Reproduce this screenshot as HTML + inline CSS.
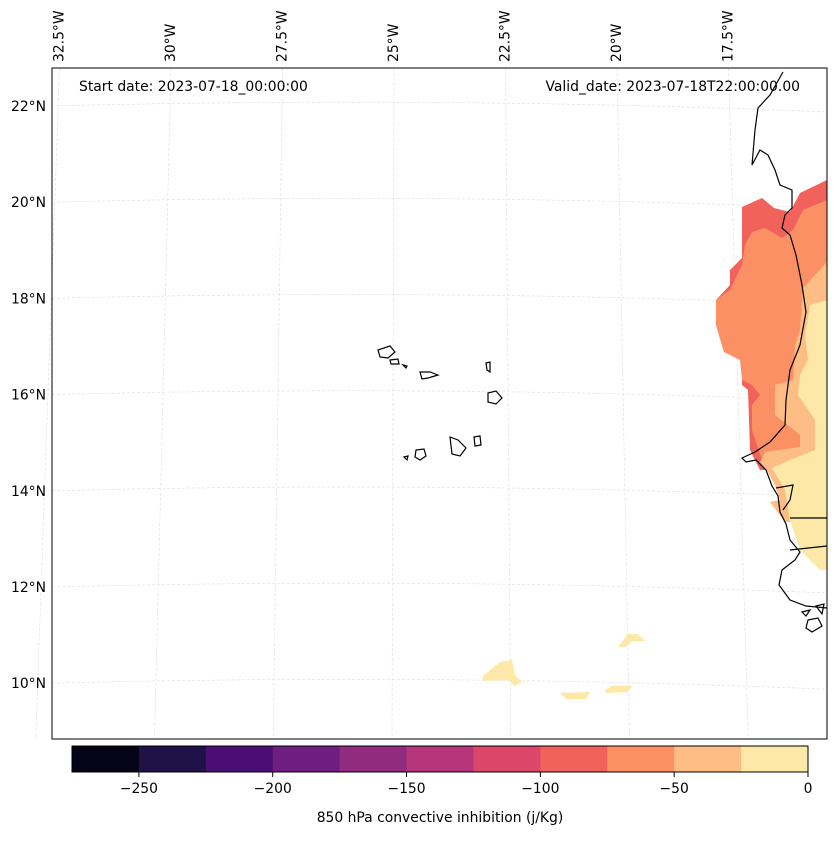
<!DOCTYPE html>
<html><head><meta charset="utf-8"><style>
body{margin:0;background:#fff;width:837px;height:836px;overflow:hidden}
text{font-family:"DejaVu Sans","Liberation Sans",sans-serif;fill:#000}
</style></head><body>
<svg id="chart" width="837" height="836">
<g id="grid"></g>
<g id="fills"></g>
<g id="coast"></g>
<rect x="52" y="68" width="775" height="671" fill="none" stroke="#000" stroke-width="1"/>
<text x="79" y="91" font-size="13.9">Start date: 2023-07-18_00:00:00</text>
<text x="800" y="91" font-size="13.9" text-anchor="end">Valid_date: 2023-07-18T22:00:00.00</text>
<g id="labels"></g>
<g id="cbar"></g>
<text x="440" y="822" font-size="13.9" text-anchor="middle">850 hPa convective inhibition (j/Kg)</text>
</svg>
<script>
const lonTicks=["32.5°W","30°W","27.5°W","25°W","22.5°W","20°W","17.5°W"];
const lonVals=[-32.5,-30,-27.5,-25,-22.5,-20,-17.5];
const latTicks=["22°N","20°N","18°N","16°N","14°N","12°N","10°N"];
const latVals=[22,20,18,16,14,12,10];
const levels=[-275,-250,-225,-200,-175,-150,-125,-100,-75,-50,-25,0];
const cbTicks=[-250,-200,-150,-100,-50,0];
const colors=["#050416","#1f1147","#4b0f74","#6e1e81","#912b80","#b5367a","#da4769","#f2625c","#fc9065","#febd84","#fde8a7"];
const NS="http://www.w3.org/2000/svg";
function mk(t,a,p){const e=document.createElementNS(NS,t);for(const k in a)e.setAttribute(k,a[k]);p.appendChild(e);return e;}
const lonTop=v=>394+(v+25)*44.6, lonBot=v=>392+(v+25)*47.5;
const latY=v=>106+(22-v)*48.1;
const grid=document.getElementById('grid'),labels=document.getElementById('labels');
lonVals.forEach((v,i)=>{
 const l=mk('line',{x1:lonTop(v),y1:68,x2:lonBot(v),y2:739,stroke:'#ddd','stroke-width':0.6,'stroke-dasharray':'3,2'},grid);
 
 
 const x=lonTop(v)+4;
 const t=mk('text',{x:x,y:62,'font-size':13.9,transform:`rotate(-90 ${x} 62)`},labels);
 t.textContent=lonTicks[i];
 
 
});
latVals.forEach((v,i)=>{
 const y=latY(v);
 const p=mk('path',{d:`M52 ${y} Q440 ${y-10} 827 ${y+6}`,fill:'none',stroke:'#ddd','stroke-width':0.6,'stroke-dasharray':'3,2'},grid);
 
 
 const t=mk('text',{x:46,y:y+5,'font-size':13.9,'text-anchor':'end'},labels);
 t.textContent=latTicks[i];
 
 
});
const fillLevels=[7,8,9,10,10,10,10,10];
const fillShapes=[
"742,207 762,198 774,208 790,212 800,193 827,180 827,470 760,470 750,450 748,390 742,385 742,360 724,352 716,325 716,300 730,285 730,270 742,258",
"752,232 765,228 782,238 793,230 803,210 827,200 827,470 762,460 752,430 752,405 760,395 752,385 742,380 740,360 724,352 716,325 716,300 730,290 742,265 745,245",
"827,262 803,288 800,330 795,345 793,380 775,385 775,415 800,435 800,447 765,452 760,462 768,472 775,485 780,500 770,502 785,522 827,522",
"827,300 810,305 805,335 808,360 800,375 798,395 815,420 815,450 790,460 772,468 785,490 790,520 800,550 810,560 820,570 827,570",
"483,676 500,662 512,660 515,675 522,682 515,686 508,680 483,681",
"560,693 590,692 586,699 566,699",
"605,690 612,686 632,686 628,692 606,693",
"618,647 628,634 638,634 645,641 632,641 626,647"];
const fills=document.getElementById('fills');
fillShapes.forEach((s,i)=>{
 const p=mk('polygon',{points:s,fill:colors[fillLevels[i]]},fills);
 
 
});
const coast=document.getElementById('coast');
const coastPaths=[
"M783,72 L770,95 L758,108 L755,130 L752,165 L760,150 L768,155 L775,170 L780,185 L792,190 L792,208 L785,215 L782,228 L790,235 L796,255 L802,285 L806,312 L800,345 L790,370 L786,400 L785,425 L770,442 L755,452 L742,458 L746,462 L756,460 L766,470 L772,486 L778,496 L780,512 L786,524 L790,540 L800,552 L795,560 L782,570 L779,585 L790,600 L806,606 L827,608",
"M790,518 L827,518","M790,550 L827,546","M776,488 L793,485 L790,500 L783,510",
"M802,612 L810,610 L806,616 Z","M808,620 L818,618 L822,626 L812,632 L806,628 Z","M816,606 L824,604 L822,614 Z",
"M378,350 L390,346 L395,352 L388,358 L380,357 Z","M390,360 L398,359 L399,364 L391,364 Z","M403,365 L407,366 L406,368 Z",
"M420,372 L430,372 L438,375 L428,378 L422,379 Z","M486,363 L490,362 L490,372 L487,370 Z",
"M488,393 L496,391 L502,398 L496,404 L488,402 Z","M450,437 L458,440 L466,448 L460,456 L452,454 Z",
"M474,437 L480,436 L481,445 L475,446 Z","M416,450 L424,449 L426,456 L420,460 L415,457 Z","M404,457 L408,456 L407,460 Z"];
coastPaths.forEach(d=>{
 const p=mk('path',{d:d,fill:'none',stroke:'#000','stroke-width':1.2},coast);
 
 
});
const cb=document.getElementById('cbar');
const cx=v=>72+(v-levels[0])/(levels[levels.length-1]-levels[0])*736;
colors.forEach((c,i)=>{
 const r=mk('rect',{x:cx(levels[i]),y:746,width:cx(levels[i+1])-cx(levels[i])+0.5,height:26,fill:c},cb);
 
 
});
const fr=mk('rect',{x:72,y:746,width:736,height:26,fill:'none',stroke:'#000','stroke-width':1},cb);


cbTicks.forEach(v=>{
 const x=cx(v);
 const l=mk('line',{x1:x,y1:772,x2:x,y2:777,stroke:'#000'},cb);
 
 
 const t=mk('text',{x:x,y:793,'font-size':13.9,'text-anchor':'middle'},cb);
 t.textContent=v<0?'\u2212'+Math.abs(v):String(v);
 
 
});
</script>
</body></html>
